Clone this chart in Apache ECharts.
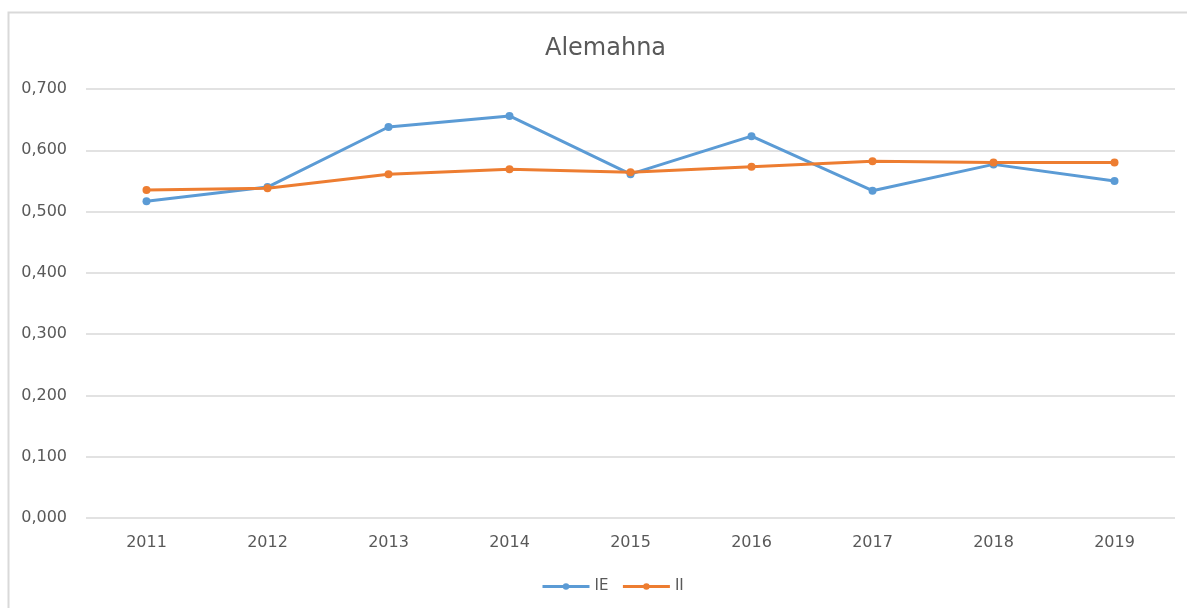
<!DOCTYPE html>
<html>
<head>
<meta charset="utf-8">
<script src="https://cdn.jsdelivr.net/npm/echarts@6/dist/echarts.min.js"></script>
<style>
  html, body { margin: 0; padding: 0; background: #fff; }
  #main { width: 1187px; height: 608px; }
</style>
</head>
<body>
<div id="main"></div>
<script>
// dados
var anos = ['2011', '2012', '2013', '2014', '2015', '2016', '2017', '2018', '2019'];
var ie = [0.517, 0.540, 0.638, 0.656, 0.561, 0.623, 0.534, 0.577, 0.550];
var ii = [0.535, 0.538, 0.561, 0.569, 0.564, 0.573, 0.582, 0.580, 0.580];

var myChart = echarts.init(document.getElementById('main'));

var fonte = 'DejaVu Sans';

function fmt(v) {
  return v.toFixed(3).replace('.', ',');
}

myChart.setOption({
  backgroundColor: '#fff',
  graphic: [
    {
      // moldura do gráfico
      type: 'rect',
      shape: { x: 8.5, y: 12.5, width: 1200, height: 620 },
      style: { fill: 'none', stroke: '#d9d9d9', lineWidth: 2 },
      silent: true
    }
  ],
  title: {
    text: 'Alemahna',
    left: 540,
    top: 32,
    textStyle: {
      color: '#595959',
      fontSize: 24,
      fontWeight: 'normal',
      fontFamily: fonte
    }
  },
  legend: {
    bottom: 9,
    left: 536,
    itemWidth: 47,
    itemHeight: 8,
    itemGap: 13,
    lineStyle: { width: 3 },
    textStyle: { color: '#595959', fontSize: 15, fontFamily: fonte },
    data: ['IE', 'II']
  },
  grid: {
    left: 86,
    right: 12,
    top: 89,
    bottom: 90,
    containLabel: false
  },
  xAxis: {
    type: 'category',
    data: anos,
    boundaryGap: true,
    axisLine: { show: false },
    axisTick: { show: false },
    axisLabel: {
      color: '#595959',
      fontSize: 16,
      fontFamily: fonte,
      margin: 17
    }
  },
  yAxis: {
    type: 'value',
    min: 0,
    max: 0.7,
    interval: 0.1,
    axisLine: { show: false },
    axisTick: { show: false },
    splitLine: { lineStyle: { color: '#d9d9d9', width: 1.5 } },
    axisLabel: {
      color: '#595959',
      fontSize: 16,
      fontFamily: fonte,
      margin: 19,
      formatter: fmt
    }
  },
  series: [
    {
      name: 'IE',
      type: 'line',
      data: ie,
      color: '#5b9bd5',
      symbol: 'circle',
      symbolSize: 8,
      lineStyle: { width: 3 },
      z: 2
    },
    {
      name: 'II',
      type: 'line',
      data: ii,
      color: '#ed7d31',
      symbol: 'circle',
      symbolSize: 8,
      lineStyle: { width: 3 },
      z: 3
    }
  ]
});
</script>
</body>
</html>
